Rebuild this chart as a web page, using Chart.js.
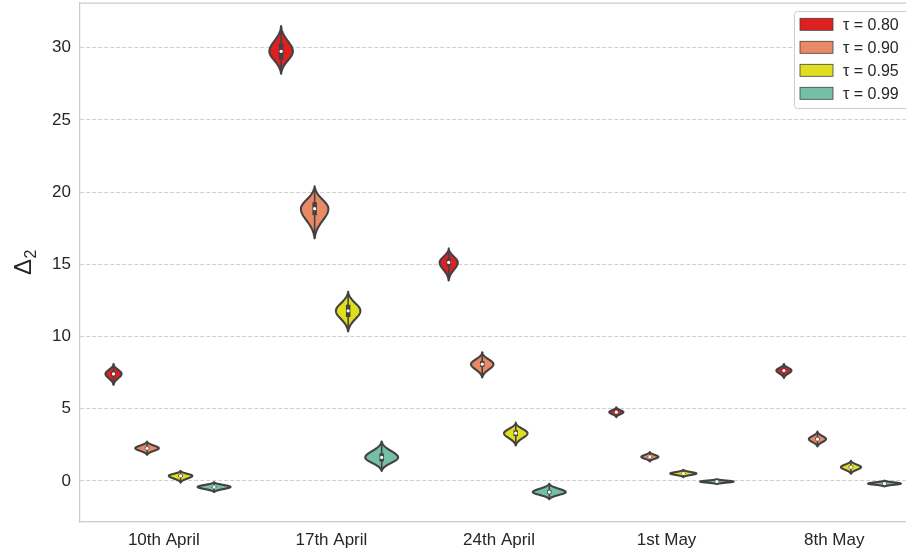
<!DOCTYPE html>
<html>
<head>
<meta charset="utf-8">
<script src="https://cdn.jsdelivr.net/npm/chart.js@4/dist/chart.umd.min.js"></script>
<style>
html,body{margin:0;padding:0;background:#fff;overflow:hidden;}
#wrap{width:918px;height:551px;}
</style>
</head>
<body>
<div id="wrap"><canvas id="c" width="918" height="551"></canvas></div>
<script>
// ---------- data ----------
const categories = ['10th April', '17th April', '24th April', '1st May', '8th May'];
const seriesLabels = ['τ = 0.80', 'τ = 0.90', 'τ = 0.95', 'τ = 0.99'];
const yTickValues = [0, 5, 10, 15, 20, 25, 30];
const yTitleMain = 'Δ';
const yTitleSub = '2';

// one row per series (τ = 0.80, 0.90, 0.95, 0.99), one column per date
const medians = [
  [7.41, 29.75, 15.13, 4.76, 7.64],
  [2.26, 18.85, 8.08, 1.66, 2.89],
  [0.35, 11.78, 3.30, 0.51, 0.95],
  [-0.42, 1.62, -0.78, -0.05, -0.19]
];
const lows = [
  [6.65, 28.20, 13.88, 4.41, 7.12],
  [1.80, 16.80, 7.16, 1.34, 2.38],
  [-0.12, 10.35, 2.45, 0.26, 0.49],
  [-0.78, 0.69, -1.27, -0.23, -0.39]
];
const highs = [
  [8.10, 31.50, 16.10, 5.10, 8.10],
  [2.72, 20.40, 8.90, 2.00, 3.42],
  [0.69, 13.10, 4.04, 0.76, 1.39],
  [-0.09, 2.72, -0.20, 0.12, 0.02]
];
const q1s = [
  [7.25, 29.20, 14.90, 4.70, 7.55],
  [2.17, 18.40, 7.90, 1.60, 2.80],
  [0.26, 11.35, 3.10, 0.46, 0.86],
  [-0.50, 1.35, -0.90, -0.09, -0.24]
];
const q3s = [
  [7.58, 30.30, 15.40, 4.83, 7.75],
  [2.36, 19.30, 8.30, 1.72, 3.00],
  [0.45, 12.20, 3.50, 0.56, 1.05],
  [-0.34, 1.90, -0.65, -0.01, -0.14]
];
// relative peak density (violin width relative to the widest)
const peakDensity = [
  [0.48, 0.70, 0.54, 0.42, 0.45],
  [0.70, 0.82, 0.67, 0.51, 0.51],
  [0.70, 0.73, 0.70, 0.78, 0.60],
  [0.98, 0.98, 0.98, 1.00, 0.98]
];

// ---------- style ----------
const fillColors = ['#df2020', '#e98966', '#dfdf20', '#73c0a6'];
const lineGray = '#424242';
const textColor = '#262626';
const fontFamily = "'Liberation Sans', Arial, sans-serif";

const datasets = seriesLabels.map((lab, i) => ({
  label: lab,
  data: categories.map((c, j) => [lows[i][j], highs[i][j]]),
  backgroundColor: fillColors[i],
  borderColor: lineGray,
  borderWidth: 1
}));

const violinPlugin = {
  id: 'violins',
  beforeDatasetsDraw(chart) {
    const ctx = chart.ctx;
    const ys = chart.scales.y;
    const area = chart.chartArea;
    ctx.save();
    ctx.beginPath();
    ctx.rect(area.left, area.top, area.right - area.left, area.bottom - area.top);
    ctx.clip();
    chart.data.datasets.forEach((ds, i) => {
      const meta = chart.getDatasetMeta(i);
      meta.data.forEach((bar, j) => {
        const cx = bar.x;
        const half = bar.width / 2 * peakDensity[i][j];
        const m = medians[i][j], lo = lows[i][j], hi = highs[i][j];
        const sU = (hi - m) / 2.5, sD = (m - lo) / 2.5;
        const N = 80;
        const right = [];
        for (let k = 0; k <= N; k++) {
          const v = lo + (hi - lo) * k / N;
          const s = v >= m ? sU : sD;
          const t = (v - m) / s;
          const w = half * Math.max(0, (Math.exp(-0.5 * t * t) - 0.044) / 0.956);
          right.push([w, ys.getPixelForValue(v)]);
        }
        ctx.beginPath();
        right.forEach((p, k) => {
          if (k === 0) ctx.moveTo(cx + p[0], p[1]); else ctx.lineTo(cx + p[0], p[1]);
        });
        for (let k = right.length - 1; k >= 0; k--) ctx.lineTo(cx - right[k][0], right[k][1]);
        ctx.closePath();
        ctx.fillStyle = ds.backgroundColor;
        ctx.fill();
        ctx.lineWidth = 2.1;
        ctx.lineJoin = 'round';
        ctx.strokeStyle = lineGray;
        ctx.stroke();
        // whisker
        ctx.beginPath();
        ctx.moveTo(cx, ys.getPixelForValue(lo));
        ctx.lineTo(cx, ys.getPixelForValue(hi));
        ctx.lineWidth = 1.6;
        ctx.stroke();
        // IQR box
        ctx.beginPath();
        ctx.moveTo(cx, ys.getPixelForValue(q1s[i][j]));
        ctx.lineTo(cx, ys.getPixelForValue(q3s[i][j]));
        ctx.lineWidth = 4.5;
        ctx.lineCap = 'butt';
        ctx.stroke();
        // median
        ctx.beginPath();
        ctx.arc(cx, ys.getPixelForValue(m), 1.6, 0, Math.PI * 2);
        ctx.fillStyle = '#ffffff';
        ctx.fill();
      });
    });
    ctx.restore();
    return false;
  }
};

const framePlugin = {
  id: 'frameAndLegend',
  afterDraw(chart) {
    const ctx = chart.ctx;
    const a = chart.chartArea;
    ctx.save();
    // top / right spines
    ctx.strokeStyle = '#cccccc';
    ctx.lineWidth = 1.25;
    ctx.beginPath();
    ctx.moveTo(a.left, a.top);
    ctx.lineTo(a.right, a.top);
    ctx.lineTo(a.right, a.bottom);
    ctx.stroke();
    // y-axis title Δ with subscript 2
    ctx.fillStyle = textColor;
    ctx.translate(31, 275);
    ctx.rotate(-Math.PI / 2);
    ctx.textAlign = 'left';
    ctx.textBaseline = 'alphabetic';
    ctx.font = '24px ' + fontFamily;
    ctx.fillText(yTitleMain, 0, 0);
    const dw = ctx.measureText(yTitleMain).width;
    ctx.font = '16px ' + fontFamily;
    ctx.fillText(yTitleSub, dw + 0.5, 5);
    ctx.setTransform(1, 0, 0, 1, 0, 0);
    // legend
    const bx = 794, by = 11, bw = 116, bh = 97;
    ctx.beginPath();
    if (ctx.roundRect) ctx.roundRect(bx + 0.5, by + 0.5, bw, bh, 3); else ctx.rect(bx + 0.5, by + 0.5, bw, bh);
    ctx.fillStyle = 'rgba(255,255,255,0.85)';
    ctx.fill();
    ctx.strokeStyle = '#cccccc';
    ctx.lineWidth = 1;
    ctx.stroke();
    ctx.font = '16px ' + fontFamily;
    ctx.textBaseline = 'middle';
    ctx.textAlign = 'left';
    chart.data.datasets.forEach((ds, i) => {
      const cy = 24.3 + i * 23;
      ctx.fillStyle = ds.backgroundColor;
      ctx.fillRect(800, cy - 6, 33, 12);
      ctx.strokeStyle = lineGray;
      ctx.lineWidth = 0.8;
      ctx.strokeRect(800, cy - 6, 33, 12);
      ctx.fillStyle = textColor;
      ctx.fillText(ds.label, 843, cy + 1);
    });
    ctx.restore();
  }
};

new Chart(document.getElementById('c'), {
  type: 'bar',
  data: { labels: categories, datasets: datasets },
  plugins: [violinPlugin, framePlugin],
  options: {
    responsive: false,
    animation: false,
    devicePixelRatio: 1,
    layout: { padding: { top: 3, right: 0, left: 0, bottom: 0 } },
    datasets: { bar: { categoryPercentage: 0.8, barPercentage: 1.0 } },
    plugins: { legend: { display: false }, tooltip: { enabled: false } },
    scales: {
      x: {
        grid: { display: false, drawTicks: false },
        border: { display: true, color: '#cccccc', width: 1.25 },
        ticks: { color: textColor, font: { family: fontFamily, size: 17 }, padding: 8 },
        afterFit(s) { s.height = 29; s.paddingLeft = 0; s.paddingRight = 0; }
      },
      y: {
        min: -2.85,
        max: 33.1,
        afterBuildTicks(s) { s.ticks = yTickValues.map(v => ({ value: v })); },
        grid: { color: '#cfcfcf', lineWidth: 1, drawTicks: false },
        border: { display: true, color: '#cccccc', width: 1.25, dash: [4, 2] },
        ticks: { color: textColor, font: { family: fontFamily, size: 17 }, padding: 9 },
        afterFit(s) { s.width = 80; s.paddingTop = 0; s.paddingBottom = 0; }
      }
    }
  }
});
</script>
</body>
</html>
